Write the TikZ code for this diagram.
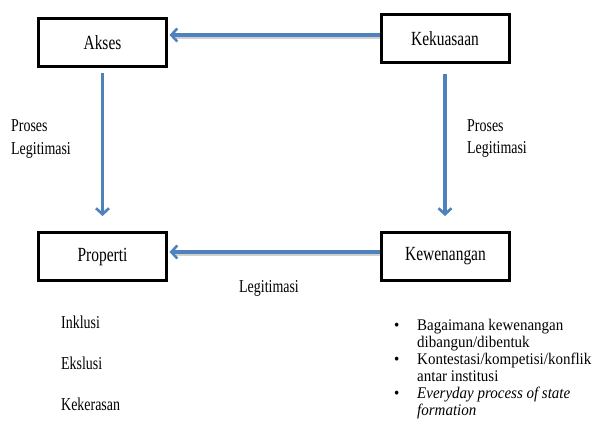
\documentclass[tikz,border=0pt]{standalone}
\usepackage{fontspec}
\setmainfont{Liberation Serif}
\usetikzlibrary{arrows.meta}
\definecolor{arrblue}{RGB}{79,129,189}
\newcommand{\vst}[1]{\scalebox{1}[1.3]{#1}}
\newcommand{\bst}[1]{\scalebox{1.06}[1.15]{#1}}
\begin{document}
\begin{tikzpicture}[x=1bp,y=-1bp,
  boxnode/.style={draw=black,line width=3bp,minimum width=128bp,minimum height=48bp,inner sep=0pt,font=\fontsize{15.5}{18}\selectfont},
  lbl/.style={anchor=west,inner sep=0pt,font=\fontsize{14}{16}\selectfont},
  bline/.style={anchor=base west,inner sep=0pt,font=\fontsize{14.2}{16}\selectfont},
  conn/.style={draw=arrblue,line width=3.3bp,-{Straight Barb[length=6bp,width=13bp,line width=2.6bp]}},
  shadowline/.style={draw=black!18,line width=3bp}
]
\useasboundingbox (0,0) rectangle (595,437);
\node[boxnode] (akses) at (102.5,43) {\vst{Akses}};
\node[boxnode] (kek) at (445,38.5) {\vst{Kekuasaan}};
\node[boxnode] (prop) at (102.5,256.5) {\vst{Properti}};
\node[boxnode] (kew) at (445.5,256.5) {\vst{Kewenangan}};
\coordinate (ty) at (0,35);
\coordinate (by) at (0,252);
% shadows
\draw[shadowline] ([yshift=-2.2bp]kek.west |- ty) -- ([xshift=8bp,yshift=-2.2bp]akses.east |- ty);
\draw[shadowline] ([yshift=-2.2bp]kew.west |- by) -- ([xshift=8bp,yshift=-2.2bp]prop.east |- by);
% arrows
\draw[conn] (kek.west |- ty) -- ([xshift=1.5bp]akses.east |- ty);
\draw[conn] (kew.west |- by) -- ([xshift=1.5bp]prop.east |- by);
\draw[conn,shorten <=5bp,shorten >=15bp] (akses.south) -- (prop.north);
\draw[conn,shorten <=10bp,shorten >=15bp] (kek.south) -- (kek.south |- prop.north);
% labels
\node[lbl] (pl1) at (11,126) {\vst{Proses}};
\node[lbl] (pl2) at (11,150) {\vst{Legitimasi}};
\node[lbl] (pr1) at (467,126) {\vst{Proses}};
\node[lbl] (pr2) at (467,149) {\vst{Legitimasi}};
\node[lbl] (leg) at (239,288) {\vst{Legitimasi}};
\node[lbl] (ink) at (61,322) {\vst{Inklusi}};
\node[lbl] (eks) at (61,363) {\vst{Ekslusi}};
\node[lbl] (kkr) at (61,404) {\vst{Kekerasan}};
% bullets
\node[bline] (b1) at (394,330) {\bst{\textbullet}};
\node[bline] (b2) at (394,364) {\bst{\textbullet}};
\node[bline] (b3) at (394,398) {\bst{\textbullet}};
\node[bline] (t1a) at (417,330) {\bst{Bagaimana kewenangan}};
\node[bline] (t1b) at (417,347) {\bst{dibangun/dibentuk}};
\node[bline] (t2a) at (417,364) {\bst{Kontestasi/kompetisi/konflik}};
\node[bline] (t2b) at (417,381) {\bst{antar institusi}};
\node[bline] (t3a) at (417,398) {\bst{\textit{Everyday process of state}}};
\node[bline] (t3b) at (417,415) {\bst{\textit{formation}}};
\end{tikzpicture}
\end{document}
